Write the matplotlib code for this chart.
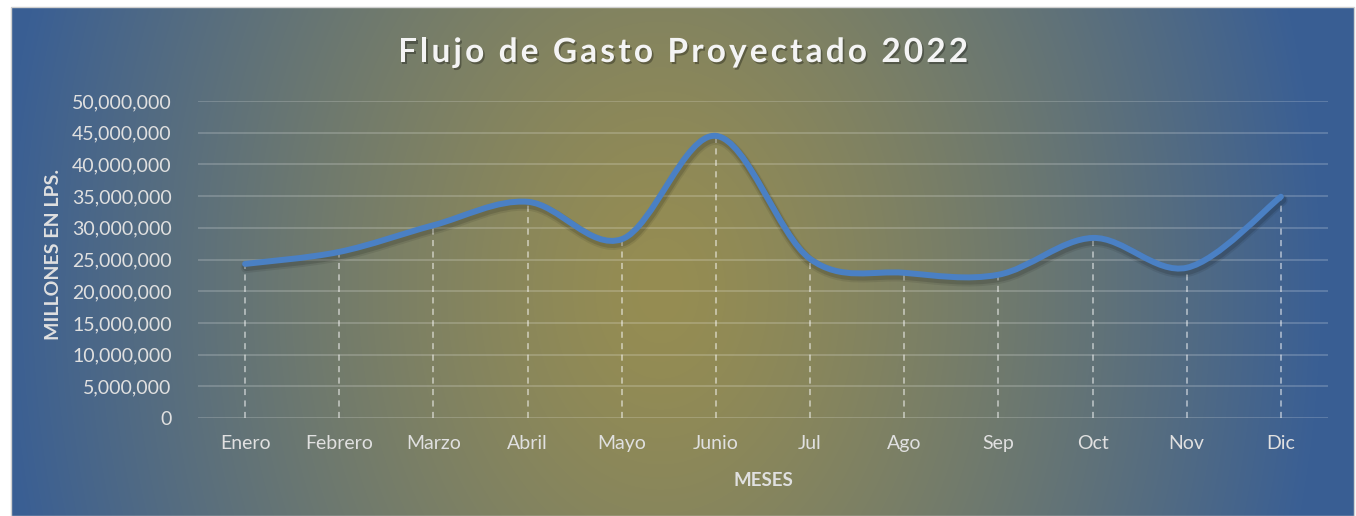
import numpy as np
import matplotlib
matplotlib.use('Agg')
import matplotlib.pyplot as plt
from matplotlib.path import Path
from matplotlib.patches import PathPatch, Rectangle
from matplotlib.transforms import ScaledTranslation
import matplotlib.patheffects as pe
from matplotlib.ticker import FuncFormatter

# ---------------- data ----------------
months = ['Enero', 'Febrero', 'Marzo', 'Abril', 'Mayo', 'Junio',
          'Jul', 'Ago', 'Sep', 'Oct', 'Nov', 'Dic']
gasto = [24.3e6, 26.2e6, 30.4e6, 34.1e6, 28.2e6, 44.5e6,
         25.1e6, 22.9e6, 22.6e6, 28.4e6, 23.7e6, 34.9e6]
y_ticks = list(range(0, 50_000_001, 5_000_000))
title = 'Flujo de Gasto Proyectado 2022'
xlabel = 'MESES'
ylabel = 'MILLONES EN LPS.'

W, H = 1356, 516
FONT = 'Lato'
TXT = '#e0e0e0'

fig = plt.figure(figsize=(W / 100, H / 100), dpi=100)
fig.patch.set_facecolor('white')

# ---------------- background gradient ----------------
bx0, bx1, by0, by1 = 11, 1354, 7, 516
bg = fig.add_axes([bx0 / W, 1 - by1 / H, (bx1 - bx0) / W, (by1 - by0) / H])
bg.set_axis_off()
xs = np.arange(bx0, bx1)
ys = np.arange(by0, by1)
XX, YY = np.meshgrid(xs, ys)
cx, cy, rx, ry = 660, 290, 660, 900
t = np.clip(np.hypot((XX - cx) / rx, (YY - cy) / ry), 0, 1) ** 1.35
olive = np.array([150, 141, 82]) / 255
blue = np.array([58, 95, 148]) / 255
img = olive[None, None, :] * (1 - t[..., None]) + blue[None, None, :] * t[..., None]
bg.imshow(img, aspect='auto', extent=(0, 1, 0, 1), origin='upper')
bg.set_xlim(0, 1); bg.set_ylim(0, 1)
fig.add_artist(Rectangle((bx0 / W, 1 - by1 / H), (bx1 - bx0) / W, (by1 - by0) / H,
                         transform=fig.transFigure, fill=False,
                         edgecolor='#d0d0d0', lw=1))

# ---------------- main axes ----------------
L, R_, T, B = 198, 1328, 101, 418
ax = fig.add_axes([L / W, 1 - B / H, (R_ - L) / W, (B - T) / H])
ax.patch.set_alpha(0)
for s in ax.spines.values():
    s.set_visible(False)

x = np.arange(len(months))
ax.set_xlim(-0.5, len(months) - 0.5)
ax.set_ylim(0, 50_000_000)
ax.set_yticks(y_ticks)
ax.yaxis.set_major_formatter(FuncFormatter(lambda v, p: f'{v:,.0f}'))
ax.set_xticks(x)
ax.set_xticklabels(months)
ax.yaxis.grid(True, color='white', alpha=0.2, lw=1.3)
ax.set_axisbelow(True)
ax.tick_params(axis='both', length=0, labelcolor=TXT, labelsize=14)
ax.tick_params(axis='y', pad=19)
ax.tick_params(axis='x', pad=12)
for lab in ax.get_xticklabels() + ax.get_yticklabels():
    lab.set_fontfamily(FONT)

# drop lines
ax.vlines(x, 0, gasto, colors='white', alpha=0.6, lw=1.1,
          linestyles=(0, (4, 3.5)), zorder=2)

# smoothed line (Catmull-Rom style cubic Bezier through data points)
P = np.column_stack([x, np.array(gasto, dtype=float)])
n = len(P)
verts = [P[0]]
codes = [Path.MOVETO]
for i in range(n - 1):
    pm = P[i - 1] if i > 0 else P[i]
    pp = P[i + 2] if i + 2 < n else P[i + 1]
    c1 = P[i] + (P[i + 1] - pm) / 6
    c2 = P[i + 1] - (pp - P[i]) / 6
    verts += [c1, c2, P[i + 1]]
    codes += [Path.CURVE4] * 3
path = Path(verts, codes)

for off, a, lw in [(3.5, 0.08, 8.0), (3.0, 0.12, 6.0)]:
    shadow_tr = ax.transData + ScaledTranslation(1.2 / 100, -off / 100, fig.dpi_scale_trans)
    ax.add_patch(PathPatch(path, facecolor='none', edgecolor=(0, 0, 0, a), lw=lw,
                           capstyle='round', joinstyle='round', transform=shadow_tr, zorder=3))
ax.add_patch(PathPatch(path, facecolor='none', edgecolor='#4a80c4', lw=4.3,
                       capstyle='round', joinstyle='round', zorder=4))

# axis labels
fig.text(763 / W, 1 - 481 / H, xlabel, ha='center', va='center', color=TXT,
         fontsize=13.5, fontweight='bold', family=FONT)
fig.text(54 / W, 1 - 254 / H, ylabel, ha='center', va='center', color=TXT,
         fontsize=14, fontweight='bold', family=FONT, rotation=90)

# ---------------- spaced title ----------------
def spaced_title(s, xl_px, xr_px, base_px, **kw):
    fig.canvas.draw()
    r = fig.canvas.get_renderer()

    def w(sub):
        tt = fig.text(0, 0, sub, **kw)
        wd = tt.get_window_extent(r).width
        tt.remove()
        return wd

    total_nat = w(s)
    sp = ((xr_px - xl_px) - total_nat) / (len(s) - 1)
    for i, ch in enumerate(s):
        if ch == ' ':
            continue
        left = w(s[:i + 1]) - w(ch) + i * sp
        fig.text((xl_px + left) / W, 1 - base_px / H, ch, ha='left', va='baseline',
                 path_effects=[pe.withSimplePatchShadow(offset=(1.2, -1.5),
                                                        shadow_rgbFace='black', alpha=0.3)],
                 **kw)

spaced_title(title, 398, 968, 62, fontsize=24, fontweight='bold',
             family=FONT, color='#f4f4f4')

fig.savefig('out.png', dpi=100, facecolor='white')
